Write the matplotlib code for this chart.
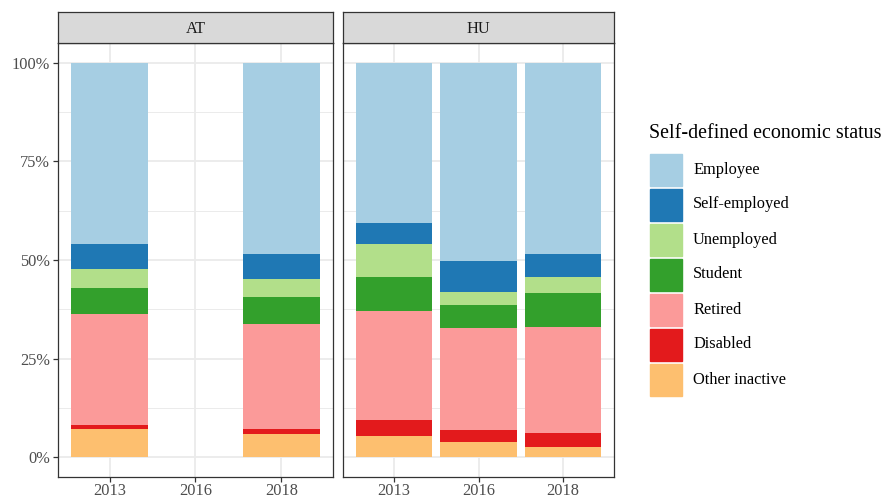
import matplotlib
matplotlib.use("Agg")
import matplotlib.pyplot as plt
import numpy as np
from matplotlib.patches import Rectangle

plt.rcParams['font.family'] = ['Liberation Serif', 'DejaVu Serif']

# categories
years = ["2013", "2016", "2018"]
countries = ["AT", "HU"]
statuses = ["Employee", "Self-employed", "Unemployed", "Student",
            "Retired", "Disabled", "Other inactive"]
colors = ["#A6CEE3", "#1F78B4", "#B2DF8A", "#33A02C",
          "#FB9A99", "#E31A1C", "#FDBF6F"]

# shares in % (stacked from the bottom: Other inactive first), None = no survey
at_other = [7.1, None, 6.0]
at_disabled = [1.1, None, 1.1]
at_retired = [28.2, None, 26.7]
at_student = [6.6, None, 6.7]
at_unemployed = [4.8, None, 4.6]
at_selfemp = [6.3, None, 6.3]
at_employee = [45.9, None, 48.6]

hu_other = [5.4, 3.9, 2.7]
hu_disabled = [4.0, 2.9, 3.4]
hu_retired = [27.6, 25.9, 26.9]
hu_student = [8.6, 6.0, 8.7]
hu_unemployed = [8.5, 3.1, 3.9]
hu_selfemp = [5.4, 7.9, 5.8]
hu_employee = [40.5, 50.3, 48.6]

data = {
    "AT": [at_employee, at_selfemp, at_unemployed, at_student,
           at_retired, at_disabled, at_other],
    "HU": [hu_employee, hu_selfemp, hu_unemployed, hu_student,
           hu_retired, hu_disabled, hu_other],
}

W, H = 887, 499
fig = plt.figure(figsize=(W / 100, H / 100), dpi=100)

def px(x0, y0, x1, y1):
    return [x0 / W, 1 - y1 / H, (x1 - x0) / W, (y1 - y0) / H]

panels = {"AT": (58, 333), "HU": (343, 614)}
ptop, pbot = 43, 477
stop = 12
grid_col = "#EBEBEB"
dark = "#333333"

for i, c in enumerate(countries):
    x0, x1 = panels[c]
    ax = fig.add_axes(px(x0, ptop, x1, pbot))
    ax.set_xlim(-0.6, len(years) - 0.4)
    ax.set_ylim(-0.05, 1.05)
    ax.set_axisbelow(True)
    for y in np.arange(0.125, 1.0, 0.25):
        ax.axhline(y, color=grid_col, lw=0.7, zorder=0)
    for y in np.arange(0, 1.01, 0.25):
        ax.axhline(y, color=grid_col, lw=1.3, zorder=0)
    for x in range(len(years)):
        ax.axvline(x, color=grid_col, lw=1.3, zorder=0)

    # stack from bottom: reversed status order
    series = data[c]
    bottom = np.zeros(len(years))
    for k in range(len(statuses) - 1, -1, -1):
        vals = series[k]
        for j, v in enumerate(vals):
            if v is None:
                continue
            ax.bar(j, v / 100, bottom=bottom[j], width=0.9,
                   color=colors[k], edgecolor="none", zorder=2)
            bottom[j] += v / 100

    ax.set_xticks(range(len(years)))
    ax.set_xticklabels(years)
    ax.set_yticks([0, 0.25, 0.5, 0.75, 1.0])
    if i == 0:
        ax.set_yticklabels(["0%", "25%", "50%", "75%", "100%"])
    else:
        ax.tick_params(axis="y", left=False, labelleft=False)
    ax.tick_params(colors=dark, labelcolor="#4D4D4D", labelsize=11.8,
                   length=3.5, width=0.9, pad=2.5)
    ax.tick_params(axis="x", pad=1.0)
    for s in ax.spines.values():
        s.set_color(dark)
        s.set_linewidth(0.9)

    # strip
    sax = fig.add_axes(px(x0, stop, x1, ptop))
    sax.set_xticks([])
    sax.set_yticks([])
    sax.set_facecolor("#D9D9D9")
    for s in sax.spines.values():
        s.set_color(dark)
        s.set_linewidth(0.9)
    sax.text(0.5, 0.45, c, ha="center", va="center", fontsize=11.8,
             color="#1A1A1A", transform=sax.transAxes)

# legend
fig.text(649 / W, 1 - 134 / H, "Self-defined economic status",
         fontsize=14.4, ha="left", va="center", color="black")
key_h = 35
ky0 = 152
for k, (s, col) in enumerate(zip(statuses, colors)):
    yt = ky0 + k * key_h
    fig.patches.append(Rectangle((650 / W, 1 - (yt + key_h - 1.5) / H),
                                 32 / W, (key_h - 3) / H, color=col,
                                 transform=fig.transFigure, figure=fig))
    fig.text(693 / W, 1 - (yt + key_h / 2 + 4) / H, s, fontsize=11.8,
             ha="left", va="baseline", color="black")

fig.savefig("out.png", dpi=100)
